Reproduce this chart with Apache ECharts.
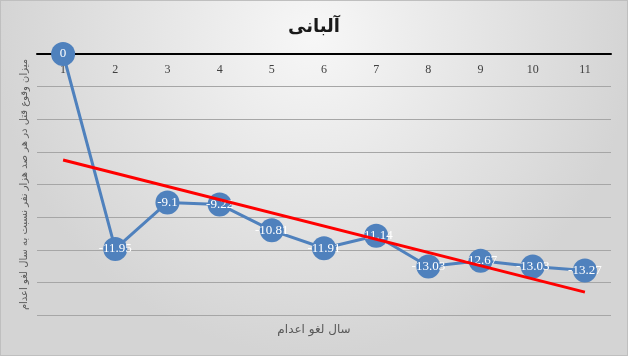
<!DOCTYPE html>
<html><head><meta charset="utf-8">
<script src="https://cdn.jsdelivr.net/npm/echarts@6/dist/echarts.min.js"></script>
<style>html,body{margin:0;padding:0;}#c{width:626px;height:354px;border:1px solid #bfbfbf;}</style>
</head><body><div id="c"></div>
<script>
const categories = ['1','2','3','4','5','6','7','8','9','10','11'];
const values = [0, -11.95, -9.1, -9.22, -10.81, -11.91, -11.14, -13.03, -12.67, -13.03, -13.27];
const trendValues = [-6.5, null, null, null, null, null, null, null, null, null, -14.6];
const titleText = 'آلبانی';
const xName = 'سال لغو اعدام';
const yName = 'میزان وقوع قتل در هر صد هزار نفر نسبت به سال لغو اعدام';

const chart = echarts.init(document.getElementById('c'));
chart.setOption({
  backgroundColor: {
    type: 'radial', x: 0.5, y: 0.1, r: 0.9,
    colorStops: [{offset: 0, color: '#f7f7f7'}, {offset: 1, color: '#d4d4d4'}]
  },
  animation: false,
  title: [
    {text: titleText, left: 'center', top: 12,
     textStyle: {fontFamily: 'DejaVu Sans', fontSize: 18, fontWeight: 'bold', color: '#1a1a1a'}},
    {text: xName, left: 'center', top: 318,
     textStyle: {fontFamily: 'DejaVu Sans', fontSize: 12, fontWeight: 'normal', color: '#595959'}}
  ],
  grid: {left: 36, right: 16, top: 53, bottom: 40},
  xAxis: {
    type: 'category', data: categories, boundaryGap: true, position: 'top',
    axisLine: {onZero: false, lineStyle: {color: '#000', width: 2}},
    axisTick: {show: false},
    axisLabel: {inside: true, color: '#404040', fontSize: 12, fontFamily: 'Liberation Sans Narrow', margin: 10}
  },
  yAxis: {
    type: 'value', min: -16, max: 0, interval: 2,
    name: yName, nameLocation: 'middle', nameRotate: 90, nameGap: 8,
    nameTextStyle: {fontFamily: 'DejaVu Sans', fontSize: 10, color: '#595959'},
    axisLabel: {show: false}, axisLine: {show: false}, axisTick: {show: false},
    splitLine: {lineStyle: {color: '#a6a6a6', width: 1}}
  },
  series: [
    {type: 'line', data: trendValues, connectNulls: true, showSymbol: false, symbol: 'none',
     lineStyle: {color: '#ff0000', width: 3}, z: 3},
    {type: 'line', data: values, clip: false, symbol: 'circle', symbolSize: 24,
     lineStyle: {color: '#4f81bd', width: 3},
     itemStyle: {color: '#4f81bd'},
     label: {show: true, position: 'inside', color: '#fff', fontSize: 13,
             fontFamily: 'Liberation Sans Narrow'},
     z: 2}
  ]
});
</script></body></html>
